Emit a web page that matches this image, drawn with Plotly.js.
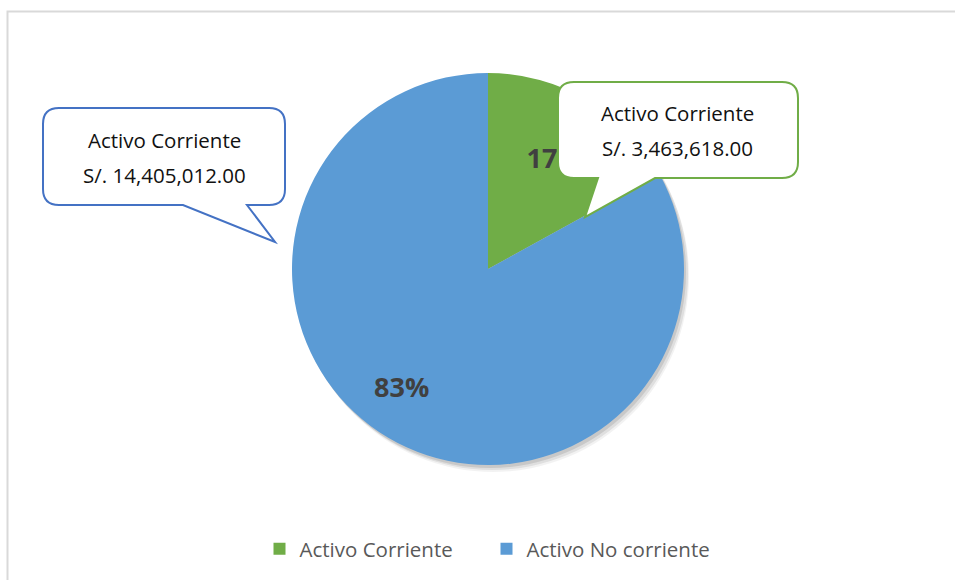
<!DOCTYPE html>
<html>
<head>
<meta charset="utf-8">
<script src="https://cdn.plot.ly/plotly-3.0.1.min.js"></script>
<style>html,body{margin:0;padding:0;background:#fff;}</style>
</head>
<body>
<div id="chart" style="width:955px;height:580px;"></div>
<script>
// Data
var categories = ["Activo Corriente", "Activo No corriente"];
var percentValues = [17, 83];
var sliceColors = ["#70ad47", "#5b9bd5"];
var calloutTitles = ["Activo Corriente", "Activo Corriente"];
var calloutAmounts = ["S/. 14,405,012.00", "S/. 3,463,618.00"];

var W = 955, H = 580;
function px(x) { return x / W; }
function py(y) { return 1 - y / H; }

function bubble(x0, y0, x1, y1, r, pa, tip, pb) {
  var P = function (x, y) { return px(x).toFixed(5) + "," + py(y).toFixed(5); };
  return "M" + P(x0 + r, y0) +
    " L" + P(x1 - r, y0) +
    " Q" + P(x1, y0) + " " + P(x1, y0 + r) +
    " L" + P(x1, y1 - r) +
    " Q" + P(x1, y1) + " " + P(x1 - r, y1) +
    " L" + P(pb, y1) +
    " L" + P(tip[0], tip[1]) +
    " L" + P(pa, y1) +
    " L" + P(x0 + r, y1) +
    " Q" + P(x0, y1) + " " + P(x0, y1 - r) +
    " L" + P(x0, y0 + r) +
    " Q" + P(x0, y0) + " " + P(x0 + r, y0) + " Z";
}

var cx = 488, cy = 269, R = 196;

var shapes = [
  {type: "rect", xref: "paper", yref: "paper", x0: px(7.5), x1: px(975), y0: py(11.5), y1: py(600),
   line: {color: "#d9d9d9", width: 2}, fillcolor: "rgba(0,0,0,0)", layer: "below"}
];
[[2, 3, 0.10], [4, 5, 0.08], [5, 7, 0.05]].forEach(function (s) {
  shapes.push({type: "circle", xref: "paper", yref: "paper",
    x0: px(cx - R + s[0]), x1: px(cx + R + s[0]), y0: py(cy + R + s[1]), y1: py(cy - R + s[1]),
    line: {width: 0}, fillcolor: "rgba(0,0,0," + s[2] + ")", layer: "below"});
});
shapes.push({type: "path", xref: "paper", yref: "paper",
  path: bubble(43, 108, 285, 205, 16, 183, [275, 242], 247),
  line: {color: "#4472c4", width: 2}, fillcolor: "#ffffff", layer: "above"});
shapes.push({type: "path", xref: "paper", yref: "paper",
  path: bubble(558, 82, 798, 178, 16, 598, [585, 217], 655),
  line: {color: "#70ad47", width: 2}, fillcolor: "#ffffff", layer: "above"});

var calloutFont = {family: "Open Sans, Liberation Sans, sans-serif", size: 20.5, color: "#111111"};
var total = percentValues.reduce(function (a, b) { return a + b; }, 0);
var annotations = [
  {xref: "paper", yref: "paper", x: px(164), y: py(140), xanchor: "center", yanchor: "middle", text: calloutTitles[0], showarrow: false, font: calloutFont},
  {xref: "paper", yref: "paper", x: px(164), y: py(175), xanchor: "center", yanchor: "middle", text: calloutAmounts[0], showarrow: false, font: calloutFont},
  {xref: "paper", yref: "paper", x: px(677), y: py(113), xanchor: "center", yanchor: "middle", text: calloutTitles[1], showarrow: false, font: calloutFont},
  {xref: "paper", yref: "paper", x: px(677), y: py(148), xanchor: "center", yanchor: "middle", text: calloutAmounts[1], showarrow: false, font: calloutFont},
  {xref: "paper", yref: "paper", x: px(401), y: py(386), xanchor: "center", yanchor: "middle",
   text: "<b>" + Math.round(percentValues[1] / total * 100) + "%</b>", showarrow: false,
   font: {family: "Open Sans, Liberation Sans, sans-serif", size: 27, color: "#404040"}}
];

var trace = {
  type: "pie",
  labels: categories,
  values: percentValues,
  sort: false,
  direction: "clockwise",
  rotation: 0,
  marker: {colors: sliceColors, line: {width: 0}},
  textinfo: "percent",
  texttemplate: ["%{percent:.0%}", ""],
  textposition: "inside",
  insidetextorientation: "horizontal",
  textfont: {family: "Open Sans, Liberation Sans, sans-serif", size: 27, color: "#404040", weight: "bold"},
  hoverinfo: "none",
  domain: {x: [px(cx - R), px(cx + R)], y: [py(cy + R), py(cy - R)]}
};

var layout = {
  width: W, height: H,
  margin: {l: 0, r: 0, t: 0, b: 0},
  paper_bgcolor: "#ffffff",
  showlegend: true,
  legend: {orientation: "h", x: 0.5 + 9 / W, xanchor: "center", y: py(549), yanchor: "middle",
    font: {family: "Open Sans, Liberation Sans, sans-serif", size: 20.5, color: "#595959"},
    itemsizing: "constant", traceorder: "normal", entrywidth: 182, entrywidthmode: "pixels"},
  shapes: shapes,
  annotations: annotations
};

Plotly.newPlot("chart", [trace], layout, {displayModeBar: false, staticPlot: true});
</script>
</body>
</html>
